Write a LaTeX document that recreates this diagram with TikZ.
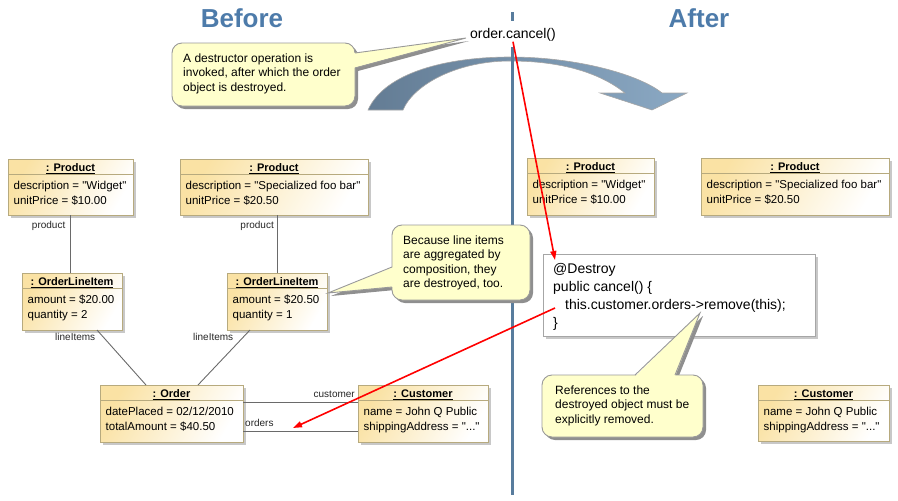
\documentclass[tikz,border=0pt]{standalone}
\usepackage{fontspec}
\setmainfont{Liberation Sans}
\usetikzlibrary{calc,shadows,arrows.meta}
\definecolor{umlY}{HTML}{FAE2A4}
\definecolor{umlB}{HTML}{B7AA7E}
\definecolor{umlS}{HTML}{C8C8C8}
\definecolor{noteY}{HTML}{FFFFCC}
\definecolor{noteB}{HTML}{999999}
\definecolor{noteS}{HTML}{8F8F8F}
\definecolor{titleC}{HTML}{4D7BAA}
\definecolor{vlineC}{HTML}{587C9D}
\definecolor{arcL}{HTML}{637C94}
\definecolor{arcR}{HTML}{8BA9C4}
\definecolor{connC}{HTML}{6A6A6A}
\definecolor{codeB}{HTML}{A6A6A6}
\newcommand\umlheadfont{\fontsize{11pt}{13pt}\selectfont\bfseries}
\newcommand\umlattrfont{\fontsize{11.5pt}{14pt}\selectfont}
\newcommand\notefont{\fontsize{12pt}{14.5pt}\selectfont}
\newcommand\codefont{\fontsize{14pt}{18.3pt}\selectfont}
\newcommand\lblfont{\fontsize{10pt}{12pt}\selectfont}
\newcommand\sq{\textquotedbl}
\tikzset{
  umlbox/.style={draw=umlB, line width=0.9pt, top color=umlY, bottom color=white, shading angle=60, inner sep=0pt, outer sep=0pt, drop shadow={shadow xshift=3pt, shadow yshift=-3pt, fill=umlS, opacity=1}},
  umlhead/.style={font=\umlheadfont, inner sep=0pt, anchor=base},
  umlattr/.style={font=\umlattrfont, inner sep=0pt, anchor=base west},
  umlsep/.style={draw=umlB, line width=0.9pt},
  conn/.style={draw=connC, line width=0.9pt},
  lbl/.style={font=\lblfont, inner sep=0pt, text=black!85},
  notebox/.style={draw=noteB, line width=0.9pt, fill=noteY, rounded corners=10pt, inner sep=0pt, outer sep=0pt, anchor=north west, drop shadow={shadow xshift=3pt, shadow yshift=-3pt, fill=noteS, opacity=1}},
  notetext/.style={font=\notefont, align=left, inner sep=0pt, anchor=north west},
  notefill/.style={fill=noteY},
  noteedge/.style={draw=noteB, line width=0.9pt, line join=miter},
  noteshadow/.style={fill=noteS},
  codebox/.style={draw=codeB, line width=0.9pt, fill=white, inner sep=0pt, outer sep=0pt, anchor=north west, drop shadow={shadow xshift=3pt, shadow yshift=-3pt, fill=umlS, opacity=1}},
  codetext/.style={font=\codefont, align=left, inner sep=0pt, anchor=north west},
  titletext/.style={font=\fontsize{26pt}{30pt}\selectfont\bfseries, text=titleC, inner sep=0pt},
  divider/.style={draw=vlineC, line width=3pt},
  arcshape/.style={draw=black!35, line width=0.6pt, left color=arcL, right color=arcR},
  redarrow/.style={draw=red, line width=1.6pt, -{Triangle[length=9pt,width=6pt]}},
}
\newcommand\umlobj[8]{%
  \node[umlbox, minimum width={(#4-#2)*1pt}, minimum height={(#5-#3)*1pt}] (#1) at ({(#2+#4)/2},{(#3+#5)/2}) {};
  \node[umlhead] (#1h) at ($(#1.north)+(0,12.5)$) {\underline{#6}};
  \draw[umlsep] ($(#1.north west)+(0,15.5)$) -- ($(#1.north east)+(0,15.5)$);
  \node[umlattr] (#1a) at ($(#1.north west)+(5.5,30.5)$) {#7};
  \node[umlattr] (#1b) at ($(#1.north west)+(5.5,45)$) {#8};
}
\begin{document}
\begin{tikzpicture}[x=1pt,y=-1pt]
\useasboundingbox (0,0) rectangle (898,501);

% curved transition arrow
\path[arcshape] (368,110) .. controls (385,72) and (448,57) .. (510,57)
  .. controls (578,57) and (640,75) .. (662,93) -- (687,93) -- (652,110) -- (600,93) -- (625,93)
  .. controls (600,73) and (562,61) .. (510,61)
  .. controls (458,61) and (414,84) .. (403,110) -- cycle;

% divider
\coordinate (vt1) at (512,12);
\coordinate (vt2) at (512,21);
\coordinate (vb1) at (512,47);
\coordinate (vb2) at (512,495);
\draw[divider] (vt1) -- (vt2);
\draw[divider] (vb1) -- (vb2);

% titles
\node[titletext] (before) at (242,18) {Before};
\node[titletext] (after) at (699,18) {After};
\node[font=\codefont, inner sep=0pt] (cancel) at (513,35) {order.cancel()};

% before objects
\umlobj{p1}{8}{159}{133}{215}{: Product}{description = \sq Widget\sq}{unitPrice = \$10.00}
\umlobj{p2}{180}{159}{368}{215}{: Product}{description = \sq Specialized foo bar\sq}{unitPrice = \$20.50}
\umlobj{o1}{22}{273}{122}{330}{: OrderLineItem}{amount = \$20.00}{quantity = 2}
\umlobj{o2}{227}{273}{327}{330}{: OrderLineItem}{amount = \$20.50}{quantity = 1}
\umlobj{ord}{100}{385}{243}{442}{: Order}{datePlaced = 02/12/2010}{totalAmount = \$40.50}
\umlobj{cust}{358}{385}{488}{442}{: Customer}{name = John Q Public}{shippingAddress = \sq...\sq}

% after objects
\umlobj{ap1}{527}{158}{654}{215}{: Product}{description = \sq Widget\sq}{unitPrice = \$10.00}
\umlobj{ap2}{701}{158}{889}{215}{: Product}{description = \sq Specialized foo bar\sq}{unitPrice = \$20.50}
\umlobj{acust}{758}{385}{889}{441}{: Customer}{name = John Q Public}{shippingAddress = \sq...\sq}

% connectors
\draw[conn] (p1.south) -- (p1.south |- o1.north);
\draw[conn] (o2.north) -- (o2.north |- p2.south);
\draw[conn] ($(o1.south)+(25,0)$) -- ($(ord.north)+(-25.5,0)$);
\draw[conn] ($(o2.south)+(-27,0)$) -- ($(ord.north)+(26.5,0)$);
\draw[conn] ($(ord.north east)+(0,17)$) -- ($(cust.north west)+(0,17)$);
\draw[conn] ($(ord.north east)+(0,46)$) -- ($(cust.north west)+(0,46)$);
\node[lbl, anchor=base east] (lp1) at ($(p1.south)+(-5,13)$) {product};
\node[lbl, anchor=base east] (lp2) at ($(o2.north |- p2.south)+(-3,13)$) {product};
\node[lbl, anchor=base west] (li1) at ($(o1.south)+(-17,10)$) {lineItems};
\node[lbl, anchor=base west] (li2) at ($(o2.south)+(-84,10)$) {lineItems};
\node[lbl, anchor=base east] (lcu) at ($(cust.north west)+(-3,12)$) {customer};
\node[lbl, anchor=base west] (lor) at ($(ord.north east)+(2,41)$) {orders};

% code box
\node[codebox, minimum width=272pt, minimum height=82pt] (code) at (543,254) {};
\node[codetext] (codet) at ($(code.north west)+(10,8.7)$) {@Destroy\\public cancel() \{\\\hspace*{12pt}this.customer.orders->remove(this);\\\}};

% callout 1
\coordinate (c1nw) at (172,43);
\coordinate (t1) at ($(cancel.west)+(-4,3)$);
\coordinate (c1a) at ($(c1nw)+(183,10)$);
\coordinate (c1b) at ($(c1nw)+(183,25)$);
\fill[noteshadow] ($(c1a)+(3,3)$) -- ($(t1)+(3,3)$) -- ($(c1b)+(3,3)$) -- cycle;
\node[notebox, minimum width=183pt, minimum height=63pt] (c1) at (c1nw) {};
\fill[notefill] ($(c1a)+(-1.5,0)$) -- (t1) -- ($(c1b)+(-1.5,0)$) -- cycle;
\draw[noteedge] (c1a) -- (t1) -- (c1b);
\node[notetext] (c1t) at ($(c1nw)+(11,10.2)$) {A destructor operation is\\invoked, after which the order\\object is destroyed.};

% callout 2
\coordinate (c2nw) at (392,225);
\coordinate (t2) at ($(o2.north east)+(1,20)$);
\coordinate (c2a) at ($(c2nw)+(0,42)$);
\coordinate (c2b) at ($(c2nw)+(0,62)$);
\fill[noteshadow] ($(c2a)+(3,3)$) -- ($(t2)+(3,3)$) -- ($(c2b)+(3,3)$) -- cycle;
\node[notebox, minimum width=138pt, minimum height=75pt] (c2) at (c2nw) {};
\fill[notefill] ($(c2a)+(1.5,0)$) -- (t2) -- ($(c2b)+(1.5,0)$) -- cycle;
\draw[noteedge] (c2a) -- (t2) -- (c2b);
\node[notetext] (c2t) at ($(c2nw)+(11,10.2)$) {Because line items\\are aggregated by\\composition, they\\are destroyed, too.};

% callout 3
\coordinate (c3nw) at (542,375);
\coordinate (t3) at ($(code.north west)+(157,59)$);
\coordinate (c3a) at ($(c3nw)+(93,0)$);
\coordinate (c3b) at ($(c3nw)+(133,0)$);
\fill[noteshadow] ($(c3a)+(3,3)$) -- ($(t3)+(3,3)$) -- ($(c3b)+(3,3)$) -- cycle;
\node[notebox, minimum width=161pt, minimum height=62pt] (c3) at (c3nw) {};
\fill[notefill] ($(c3a)+(0,1.5)$) -- (t3) -- ($(c3b)+(0,1.5)$) -- cycle;
\draw[noteedge] (c3a) -- (t3) -- (c3b);
\node[notetext] (c3t) at ($(c3nw)+(13,10.2)$) {References to the\\destroyed object must be\\explicitly removed.};

% red arrows
\draw[redarrow] (cancel.south) -- ($(code.north west)+(12,6)$);
\draw[redarrow] ($(code.north west)+(12,54)$) -- ($(ord.north east)+(50,43)$);
\end{tikzpicture}
\end{document}
